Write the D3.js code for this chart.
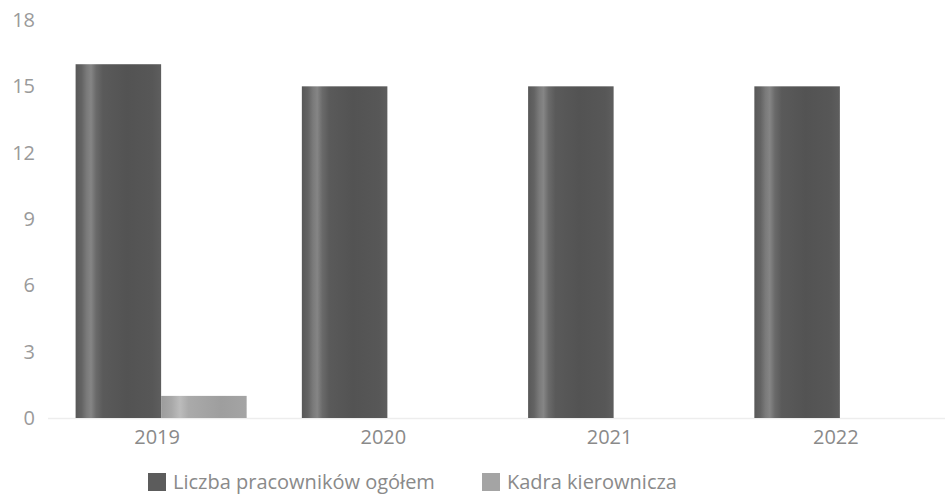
<!DOCTYPE html>
<html>
<head>
<meta charset="utf-8">
<script src="https://cdn.jsdelivr.net/npm/d3@7"></script>
<style>
  html, body { margin: 0; padding: 0; background: #fff; }
  svg { display: block; }
  text { font-family: "Open Sans", sans-serif; }
</style>
</head>
<body>
<svg id="chart" width="945" height="494"></svg>
<script>
const years = ["2019", "2020", "2021", "2022"];
const seriesNames = ["Liczba pracowników ogółem", "Kadra kierownicza"];
const totalEmployees = [16, 15, 15, 15];
const management = [1, 0, 0, 0];
const yTicks = [0, 3, 6, 9, 12, 15, 18];

const W = 945, H = 494;
const svg = d3.select("#chart");
const defs = svg.append("defs");

function cylGrad(id, stops) {
  const g = defs.append("linearGradient").attr("id", id)
    .attr("x1", "0%").attr("x2", "100%").attr("y1", "0%").attr("y2", "0%");
  stops.forEach(s => g.append("stop").attr("offset", s[0]).attr("stop-color", s[1]));
}
cylGrad("gDark", [["0%", "#585858"], ["7%", "#636363"], ["13%", "#7a7a7a"], ["18%", "#858585"], ["24%", "#6a6a6a"], ["32%", "#5a5a5a"], ["60%", "#535353"], ["90%", "#575757"], ["100%", "#5e5e5e"]]);
cylGrad("gLight", [["0%", "#9c9c9c"], ["12%", "#a8a8a8"], ["22%", "#bcbcbc"], ["32%", "#aaaaaa"], ["70%", "#9e9e9e"], ["100%", "#a4a4a4"]]);
const fills = ["url(#gDark)", "url(#gLight)"];
const swatchFills = ["#5c5c5c", "#a4a4a4"];

const y = d3.scaleLinear().domain([0, 18]).range([418, 20]);
const x0 = d3.scaleBand().domain(years).range([48, 953]).paddingInner(0.244).paddingOuter(0.122);
const x1 = d3.scaleBand().domain([0, 1]).range([0, x0.bandwidth()]);

// baseline
svg.append("line").attr("x1", 48).attr("x2", 945)
  .attr("y1", y(0) + 0.5).attr("y2", y(0) + 0.5)
  .attr("stroke", "#ededed").attr("stroke-width", 1.5);

// y axis
const yAxis = d3.axisLeft(y).tickValues(yTicks).tickSize(0).tickPadding(0);
const gy = svg.append("g").attr("transform", "translate(35,0)").call(yAxis);
gy.select(".domain").remove();
gy.selectAll("text").attr("font-size", 20).attr("fill", "#9a9a9a").attr("font-family", "Open Sans, sans-serif");

// bars
const series = [totalEmployees, management];
const groups = svg.append("g").selectAll("g").data(years).join("g")
  .attr("transform", d => `translate(${x0(d)},0)`);
groups.selectAll("rect")
  .data((d, i) => series.map((s, k) => ({ k, v: s[i] })).filter(e => e.v > 0))
  .join("rect")
  .attr("x", d => x1(d.k))
  .attr("width", x1.bandwidth())
  .attr("y", d => y(d.v))
  .attr("height", d => y(0) - y(d.v))
  .attr("fill", d => fills[d.k]);

// x axis labels
const xAxis = d3.axisBottom(x0).tickSize(0).tickPadding(0);
const gx = svg.append("g").attr("transform", `translate(-4,${y(0) + 12})`).call(xAxis);
gx.select(".domain").remove();
gx.selectAll("text").attr("font-size", 20).attr("fill", "#8a8a8a").attr("font-family", "Open Sans, sans-serif");

// legend
const legendX = [148, 482];
const lg = svg.append("g").selectAll("g").data(seriesNames).join("g")
  .attr("transform", (d, i) => `translate(${legendX[i]},473)`);
lg.append("rect").attr("width", 18).attr("height", 18).attr("fill", (d, i) => swatchFills[i]);
lg.append("text").attr("x", 25).attr("y", 15.5).text(d => d)
  .attr("font-size", 20).attr("fill", "#8a8a8a");
</script>
</body>
</html>
